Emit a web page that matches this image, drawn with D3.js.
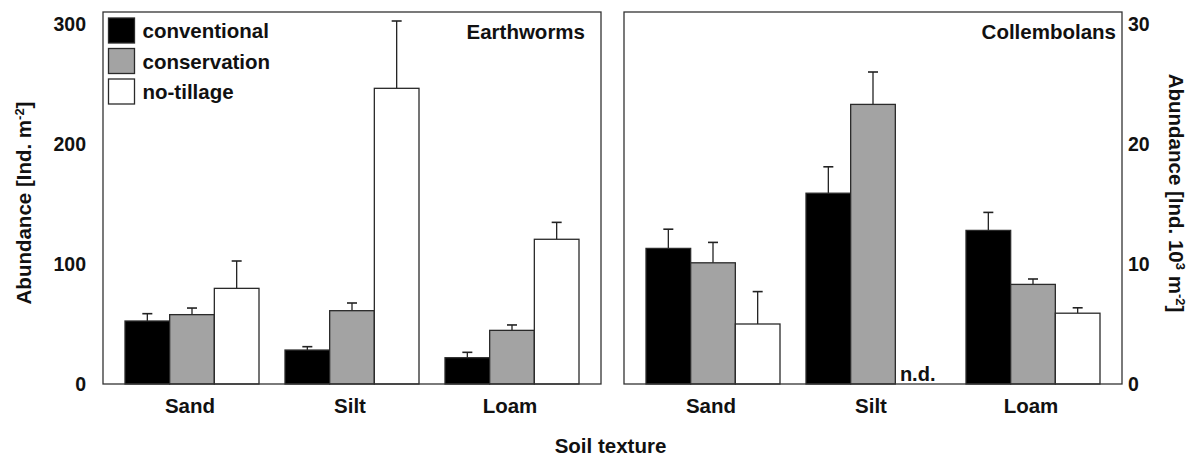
<!DOCTYPE html>
<html>
<head>
<meta charset="utf-8">
<script src="https://cdn.jsdelivr.net/npm/d3@7"></script>
<style>
  html, body { margin: 0; padding: 0; background: #fff; }
  svg text { font-family: "Liberation Sans", Arial, sans-serif; font-weight: bold; fill: #111; }
</style>
</head>
<body>
<svg id="chart" width="1192" height="457"></svg>
<script>
// Soil texture classes and tillage systems
const soils = ["Sand", "Silt", "Loam"];
const tillage = ["conventional", "conservation", "no-tillage"];
const fills = ["#000000", "#a3a3a3", "#ffffff"];

// Earthworm abundance (Ind. m^-2), rows = soils, cols = tillage
const earthwormMean = [[52.5, 57.8, 79.7], [28.3, 61.1, 246.4], [21.9, 44.7, 120.6]];
const earthwormSE   = [[6.1, 5.5, 22.8], [2.8, 6.4, 56.1], [4.5, 4.5, 14.1]];

// Collembolan abundance (10^3 Ind. m^-2); null = not determined
const collembolaMean = [[11.3, 10.1, 5.0], [15.9, 23.3, null], [12.8, 8.3, 5.9]];
const collembolaSE   = [[1.6, 1.7, 2.7], [2.2, 2.7, null], [1.5, 0.45, 0.45]];

const leftTicks = [0, 100, 200, 300];
const rightTicks = [0, 10, 20, 30];

const svg = d3.select("#chart");
const plotTop = 12, plotBottom = 384;

const panels = [
  { x0: 103, x1: 601, title: "Earthworms", titleX: 585, mean: earthwormMean, se: earthwormSE,
    y: d3.scaleLinear().domain([0, 310]).range([plotBottom, plotTop]), ticks: leftTicks, side: "left" },
  { x0: 624, x1: 1122, title: "Collembolans", titleX: 1116, mean: collembolaMean, se: collembolaSE,
    y: d3.scaleLinear().domain([0, 31]).range([plotBottom, plotTop]), ticks: rightTicks, side: "right" }
];

panels.forEach(p => {
  const xg = d3.scaleBand().domain(soils).range([p.x0, p.x1]).paddingInner(0.1625).paddingOuter(0.1375);
  const xs = d3.scaleBand().domain(tillage).range([0, xg.bandwidth()]);
  const g = svg.append("g");

  // bars with upper error bars
  soils.forEach((s, i) => {
    tillage.forEach((t, j) => {
      const v = p.mean[i][j];
      const bx = xg(s) + xs(t);
      if (v === null) {
        g.append("text").attr("x", bx + xs.bandwidth() / 2).attr("y", p.y(0) - 3)
          .attr("text-anchor", "middle").style("font-size", "20px").text("n.d.");
        return;
      }
      const e = p.se[i][j];
      const cx = bx + xs.bandwidth() / 2;
      g.append("line").attr("x1", cx).attr("x2", cx)
        .attr("y1", p.y(v)).attr("y2", p.y(v + e))
        .attr("stroke", "#222").attr("stroke-width", 1.3);
      g.append("line").attr("x1", cx - 5).attr("x2", cx + 5)
        .attr("y1", p.y(v + e)).attr("y2", p.y(v + e))
        .attr("stroke", "#222").attr("stroke-width", 1.6);
      g.append("rect").attr("x", bx).attr("y", p.y(v))
        .attr("width", xs.bandwidth()).attr("height", p.y(0) - p.y(v))
        .attr("fill", fills[j]).attr("stroke", "#2a2a2a").attr("stroke-width", 1.3);
    });
    g.append("text").attr("x", xg(s) + xg.bandwidth() / 2 - 2).attr("y", 413)
      .attr("text-anchor", "middle").style("font-size", "20.5px").text(s);
  });

  // frame
  g.append("rect").attr("x", p.x0).attr("y", plotTop).attr("width", p.x1 - p.x0).attr("height", plotBottom - plotTop)
    .attr("fill", "none").attr("stroke", "#333").attr("stroke-width", 1.3);

  // panel title
  g.append("text").attr("x", p.titleX).attr("y", 39).attr("text-anchor", "end")
    .style("font-size", "20.5px").text(p.title);

  // value axis
  const axis = (p.side === "left" ? d3.axisLeft(p.y) : d3.axisRight(p.y))
    .tickValues(p.ticks).tickSize(0).tickPadding(p.side === "left" ? 17 : 6);
  const ag = svg.append("g")
    .attr("transform", `translate(${p.side === "left" ? p.x0 : p.x1},0)`)
    .call(axis);
  ag.select(".domain").remove();
  ag.selectAll("text").style("font-size", "19.5px").attr("fill", "#111")
    .style("font-family", "'Liberation Sans', Arial, sans-serif").style("font-weight", "bold");
});

// legend
const lg = svg.append("g");
tillage.forEach((t, j) => {
  const y0 = 18 + j * 30.5;
  lg.append("rect").attr("x", 108.5).attr("y", y0).attr("width", 26).attr("height", 25)
    .attr("fill", fills[j]).attr("stroke", "#2a2a2a").attr("stroke-width", 1.3);
  lg.append("text").attr("x", 142.5).attr("y", y0 + 20).style("font-size", "20.5px").text(t);
});

// axis titles
const lt = svg.append("text").attr("transform", "translate(31,203) rotate(-90)")
  .attr("text-anchor", "middle").style("font-size", "20.5px");
lt.append("tspan").text("Abundance [Ind. m");
lt.append("tspan").attr("baseline-shift", "super").style("font-size", "13px").text("-2");
lt.append("tspan").text("]");

const rt = svg.append("text").attr("transform", "translate(1169,193) rotate(90)")
  .attr("text-anchor", "middle").style("font-size", "20.5px");
rt.append("tspan").text("Abundance [Ind. 10");
rt.append("tspan").attr("baseline-shift", "super").style("font-size", "13px").text("3");
rt.append("tspan").text(" m");
rt.append("tspan").attr("baseline-shift", "super").style("font-size", "13px").text("-2");
rt.append("tspan").text("]");

svg.append("text").attr("x", 610.5).attr("y", 453).attr("text-anchor", "middle")
  .style("font-size", "20.5px").text("Soil texture");
</script>
</body>
</html>
